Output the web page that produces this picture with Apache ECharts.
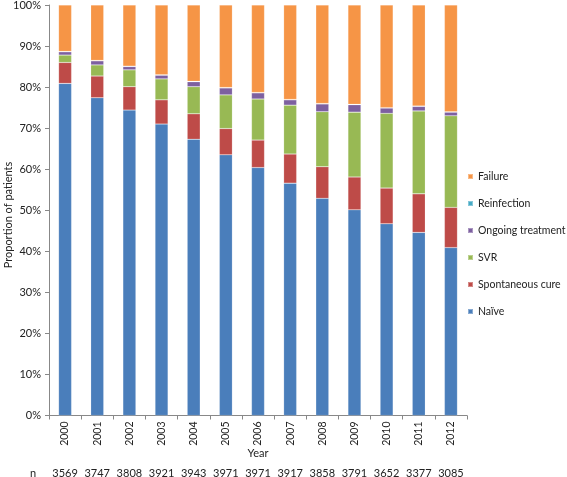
<!DOCTYPE html>
<html><head><meta charset="utf-8">
<script src="https://cdn.jsdelivr.net/npm/echarts@6/dist/echarts.min.js"></script>
<style>html,body{margin:0;padding:0;background:#fff}#c{width:567px;height:477px}</style>
</head><body><div id="c"></div>
<script>
const years = ['2000','2001','2002','2003','2004','2005','2006','2007','2008','2009','2010','2011','2012'];
const nCounts = ['3569','3747','3808','3921','3943','3971','3971','3917','3858','3791','3652','3377','3085'];
const naive = [80.9,77.4,74.4,71.0,67.3,63.5,60.4,56.6,52.9,50.1,46.7,44.6,40.9];
const spontaneous = [5.1,5.3,5.7,5.9,6.2,6.4,6.7,7.1,7.7,8.0,8.7,9.4,9.8];
const svr = [1.8,2.7,4.1,5.1,6.6,8.2,10.0,11.9,13.4,15.8,18.2,20.2,22.3];
const ongoing = [0.8,1.0,0.8,0.9,1.2,1.7,1.5,1.3,1.9,1.8,1.3,1.1,0.9];
const reinfection = [0.1,0.1,0.1,0.1,0.1,0.1,0.1,0.1,0.1,0.1,0.1,0.1,0.1];
const failure = [11.3,13.5,14.9,17.0,18.6,20.1,21.3,23.0,24.0,24.2,25.0,24.6,26.0];
const yTicks = ['0%','10%','20%','30%','40%','50%','60%','70%','80%','90%','100%'];

const font = 'Lato, "Open Sans", sans-serif';
const chart = echarts.init(document.getElementById('c'), null, {renderer:'canvas'});
const mk = (name, data, color) => ({
  name, type:'bar', stack:'s', data, barWidth:13,
  itemStyle:{color, borderColor:'rgba(255,255,255,0.35)', borderWidth:0.5},
  emphasis:{disabled:true}
});
chart.setOption({
  animation:false,
  textStyle:{fontFamily:font},
  grid:{left:49, right:100, top:5, bottom:61.5, containLabel:false, outerBoundsMode:'none'},
  legend:{
    orient:'vertical', left:462, top:166, itemGap:16, itemWidth:5, itemHeight:5,
    icon:'rect', textStyle:{fontSize:10.5, color:'#222', fontFamily:font},
    data:['Failure','Reinfection','Ongoing treatment','SVR','Spontaneous cure','Naïve']
  },
  xAxis:[{
    type:'category', data:years, name:'Year', nameLocation:'middle', nameGap:32, nameMoveOverlap:false,
    nameTextStyle:{fontSize:11, color:'#222'},
    axisLine:{lineStyle:{color:'#888'}},
    axisTick:{show:true, length:4, lineStyle:{color:'#888'}},
    axisLabel:{rotate:90, fontSize:10.5, color:'#222', margin:6, interval:0}
  },{
    type:'category', data:nCounts, position:'bottom', offset:50,
    axisLine:{show:false}, axisTick:{show:false},
    axisLabel:{fontSize:11, color:'#222', margin:2, interval:0}
  }],
  yAxis:{
    type:'value', min:0, max:100, interval:10,
    axisLine:{show:true, lineStyle:{color:'#888'}},
    axisTick:{show:true, length:4, lineStyle:{color:'#888'}},
    splitLine:{show:false},
    axisLabel:{fontSize:11, color:'#222', margin:8, formatter:(v)=>yTicks[Math.round(v/10)]}
  },
  graphic:[
    {type:'text', left:30, top:468, style:{text:'n', font:'11px '+font, fill:'#222'}},
    {type:'text', x:8, y:215, rotation:Math.PI/2,
     style:{text:'Proportion of patients', font:'11px '+font, fill:'#222', align:'center', verticalAlign:'middle'}}
  ],
  series:[
    mk('Naïve', naive, '#4A7EBB'),
    mk('Spontaneous cure', spontaneous, '#BE4B48'),
    mk('SVR', svr, '#98B954'),
    mk('Ongoing treatment', ongoing, '#7D60A0'),
    mk('Reinfection', reinfection, '#46AAC5'),
    mk('Failure', failure, '#F69546')
  ]
});
</script></body></html>
